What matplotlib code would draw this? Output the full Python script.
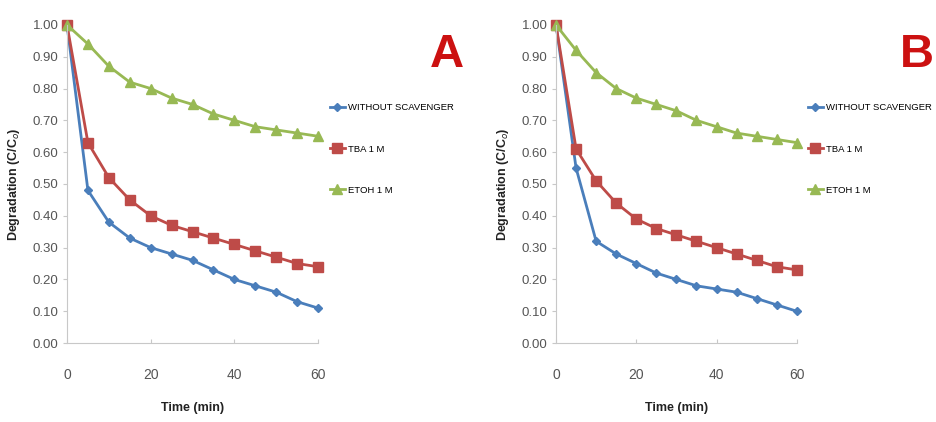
import numpy as np
import matplotlib.pyplot as plt
from matplotlib import rcParams

rcParams.update({
    'font.family': ["Liberation Sans", "DejaVu Sans"],
    'axes.edgecolor': '#c8c8c8',
    'xtick.color': '#c8c8c8',
    'ytick.color': '#c8c8c8',
    'xtick.labelcolor': '#555555',
    'ytick.labelcolor': '#555555',
})

time = [0, 5, 10, 15, 20, 25, 30, 35, 40, 45, 50, 55, 60]
labels = ["WITHOUT SCAVENGER", "TBA 1 M", "ETOH 1 M"]

# panel A
a_without = [1.00, 0.48, 0.38, 0.33, 0.30, 0.28, 0.26, 0.23, 0.20, 0.18, 0.16, 0.13, 0.11]
a_tba = [1.00, 0.63, 0.52, 0.45, 0.40, 0.37, 0.35, 0.33, 0.31, 0.29, 0.27, 0.25, 0.24]
a_etoh = [1.00, 0.94, 0.87, 0.82, 0.80, 0.77, 0.75, 0.72, 0.70, 0.68, 0.67, 0.66, 0.65]

# panel B
b_without = [1.00, 0.55, 0.32, 0.28, 0.25, 0.22, 0.20, 0.18, 0.17, 0.16, 0.14, 0.12, 0.10]
b_tba = [1.00, 0.61, 0.51, 0.44, 0.39, 0.36, 0.34, 0.32, 0.30, 0.28, 0.26, 0.24, 0.23]
b_etoh = [1.00, 0.92, 0.85, 0.80, 0.77, 0.75, 0.73, 0.70, 0.68, 0.66, 0.65, 0.64, 0.63]

colors = ["#4a7ebb", "#be4b48", "#98b954"]
markers = ["D", "s", "^"]
msizes = [4.5, 7.5, 7]

fig = plt.figure(figsize=(9.37, 4.22), dpi=100)


def panel(rect, series, letter, letter_xy, leg_xy):
    ax = fig.add_axes(rect)
    handles = []
    for y, c, m, ms, lab in zip(series, colors, markers, msizes, labels):
        h, = ax.plot(time, y, c=c, lw=2.0, marker=m, ms=ms, label=lab, clip_on=False)
        handles.append(h)
    ax.set_xlim(0, 60)
    ax.set_ylim(0, 1.0)
    ax.set_xticks([0, 20, 40, 60])
    ax.set_yticks(np.arange(0, 1.01, 0.1))
    ax.set_yticklabels(["%.2f" % v for v in np.arange(0, 1.01, 0.1)])
    ax.tick_params(axis='y', labelsize=9.5, length=3, pad=3)
    ax.tick_params(axis='x', labelsize=10, length=3, pad=18, direction='in')
    for s in ["top", "right"]:
        ax.spines[s].set_visible(False)
    ax.set_xlabel("Time (min)", fontsize=9, fontweight='bold', color='#222222', labelpad=14)
    ax.set_ylabel("Degradation (C/C$_o$)", fontsize=9, fontweight='bold', color='#222222', labelpad=8)
    fig.text(letter_xy[0], letter_xy[1], letter, color='#cc1111', fontsize=34,
             fontweight='bold', ha='center', va='center')
    fig.legend(handles=handles, loc='upper left', bbox_to_anchor=leg_xy, frameon=False,
               fontsize=6.8, labelspacing=3.4, handlelength=1.6, handletextpad=0.3,
               borderaxespad=0, borderpad=0)
    return ax


panel([0.0715, 0.187, 0.268, 0.754], [a_without, a_tba, a_etoh], "A",
      (0.477, 0.87), (0.352, 0.755))
panel([0.5934, 0.187, 0.257, 0.754], [b_without, b_tba, b_etoh], "B",
      (0.978, 0.87), (0.862, 0.755))

fig.savefig("out.png", dpi=100)
